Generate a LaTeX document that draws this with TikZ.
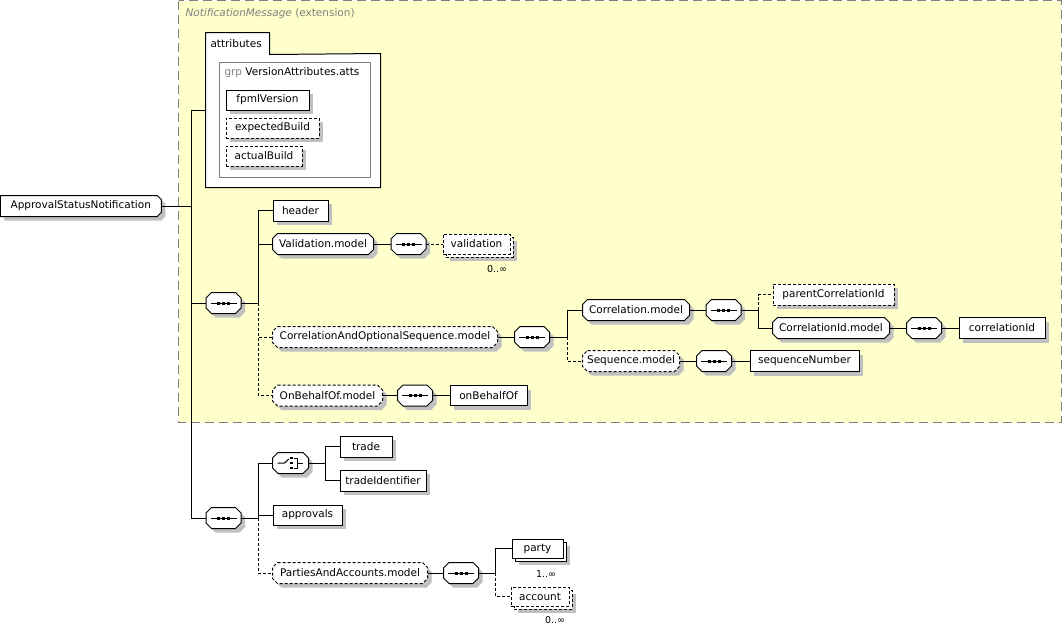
\documentclass[tikz,border=0pt]{standalone}
\usepackage{fontspec}
\setmainfont{DejaVu Sans}
\usetikzlibrary{shadows,calc}
\definecolor{bgy}{HTML}{FFFFCC}
\definecolor{bdg}{HTML}{808080}
\definecolor{shdc}{HTML}{C0C0C0}
\makeatletter
\newdimen\octc \octc=5pt
\newdimen\octXa \newdimen\octXb \newdimen\octYa \newdimen\octYb
\newdimen\octL \newdimen\octR \newdimen\octB \newdimen\octT
\newif\ifoctleft \octlefttrue
\pgfdeclareshape{octo}{%
  \inheritsavedanchors[from=rectangle]%
  \inheritanchorborder[from=rectangle]%
  \inheritanchor[from=rectangle]{center}%
  \inheritanchor[from=rectangle]{north}%
  \inheritanchor[from=rectangle]{south}%
  \inheritanchor[from=rectangle]{east}%
  \inheritanchor[from=rectangle]{west}%
  \inheritanchor[from=rectangle]{north east}%
  \inheritanchor[from=rectangle]{north west}%
  \inheritanchor[from=rectangle]{south east}%
  \inheritanchor[from=rectangle]{south west}%
  \inheritanchor[from=rectangle]{base}%
  \inheritanchor[from=rectangle]{mid}%
  \backgroundpath{%
    \southwest \octXa=\pgf@x \octYa=\pgf@y
    \northeast \octXb=\pgf@x \octYb=\pgf@y
    \octL=\octXa \advance\octL by \octc
    \octR=\octXb \advance\octR by -\octc
    \octB=\octYa \advance\octB by \octc
    \octT=\octYb \advance\octT by -\octc
    \ifoctleft
      \pgfpathmoveto{\pgfqpoint{\octL}{\octYb}}%
    \else
      \pgfpathmoveto{\pgfqpoint{\octXa}{\octYb}}%
    \fi
    \pgfpathlineto{\pgfqpoint{\octR}{\octYb}}%
    \pgfpathlineto{\pgfqpoint{\octXb}{\octT}}%
    \pgfpathlineto{\pgfqpoint{\octXb}{\octB}}%
    \pgfpathlineto{\pgfqpoint{\octR}{\octYa}}%
    \ifoctleft
      \pgfpathlineto{\pgfqpoint{\octL}{\octYa}}%
      \pgfpathlineto{\pgfqpoint{\octXa}{\octB}}%
      \pgfpathlineto{\pgfqpoint{\octXa}{\octT}}%
    \else
      \pgfpathlineto{\pgfqpoint{\octXa}{\octYa}}%
    \fi
    \pgfpathclose
  }%
}
\makeatother
\tikzset{octo chamfer/.code={\pgfmathsetlength\octc{#1}},
  octo noleft/.code={\octleftfalse}}
\newcommand\seqicon[1]{%
  \draw[line width=1pt] ([xshift=-13pt]#1.center) -- ([xshift=13pt]#1.center);
  \foreach \dx in {-5,0,5}{\fill ([xshift=\dx pt-1.5pt,yshift=-1.5pt]#1.center) rectangle ([xshift=\dx pt+1.5pt,yshift=1.5pt]#1.center);}%
}
\newcommand\choiceicon[1]{%
  \draw[line width=1pt] ([xshift=-13pt]#1.center) -- ([xshift=-6pt]#1.center) -- ([xshift=-1.5pt,yshift=4pt]#1.center);
  \foreach \dy in {-5,0,5}{\fill ([xshift=-0.5pt,yshift=\dy pt-1.3pt]#1.center) rectangle ([xshift=2.2pt,yshift=\dy pt+1.3pt]#1.center);}%
  \draw[line width=1pt] ([xshift=3pt,yshift=5pt]#1.center) -- ([xshift=7pt,yshift=5pt]#1.center) -- ([xshift=7pt,yshift=-5pt]#1.center) -- ([xshift=3pt,yshift=-5pt]#1.center);
  \draw[line width=1pt] ([xshift=7pt]#1.center) -- ([xshift=12pt]#1.center);
}
\begin{document}
\begin{tikzpicture}[x=1pt,y=-1pt,line width=1pt,font=\fontsize{10.5}{12}\selectfont,
  shd/.style={drop shadow={shadow xshift=4pt,shadow yshift=-4pt,fill=shdc,opacity=1}},
  base/.style={fill=white,inner sep=0pt,minimum height=20pt,text=black},
  elem/.style={base,shd,draw,rectangle},
  optelem/.style={elem,dash pattern=on 3pt off 2pt},
  grpm/.style={base,shd,draw,octo,octo chamfer=5pt},
  optgrp/.style={grpm,dash pattern=on 3pt off 2pt},
  comp/.style={base,shd,draw,octo,octo chamfer=5.5pt,minimum width=34pt,minimum height=20pt},
  mult/.style={font=\fontsize{9.5}{10}\selectfont,inner sep=0pt},
  dconn/.style={dash pattern=on 3pt off 2pt}]
\useasboundingbox (0,0) rectangle (1062,625);
% extension background
\draw[bdg,fill=bgy,dash pattern=on 9pt off 5pt] (178.5,0.5) rectangle (1061,422.5);
\node[anchor=west,text=bdg,inner sep=0pt] (title) at (185,14) {\textit{NotificationMessage} (extension)};
% attributes
\node[inner sep=0pt,minimum width=174pt,minimum height=133pt] (attrs) at (293,120.5) {};
\node[inner sep=0pt,minimum width=63pt,minimum height=21pt] (atab) at (237.5,43.5) {};
\draw[fill=white] (attrs.south west) -- (atab.north west) -- (atab.north east) -- (atab.south east) -- (attrs.north east) -- (attrs.south east) -- cycle;
\node[anchor=west,inner sep=0pt] (atabtxt) at (210,43.5) {attributes};
\node[draw=bdg,inner sep=0pt,minimum width=151pt,minimum height=115pt] (grpbox) at (294.5,119.5) {};
\node[anchor=west,inner sep=0pt] (grptxt) at (224,73) {\textcolor{bdg}{grp} VersionAttributes.atts};
\node[elem,minimum width=83pt] (fpml) at (267.5,100) {fpmlVersion};
\node[optelem,minimum width=93pt] (expb) at (272.5,128) {expectedBuild};
\node[optelem,minimum width=76pt] (actb) at (264,156) {actualBuild};
% root
\node[base,shd,draw,octo,octo chamfer=4pt,octo noleft,minimum width=160pt] (root) at (80.75,206) {ApprovalStatusNotification};
% top sequence
\node[comp] (seqA) at (223.5,303) {};
\node[elem,minimum width=55pt,minimum height=21pt] (header) at (300.5,210.5) {header};
\node[grpm,minimum width=100pt] (valm) at (323,244) {Validation.model};
\node[comp] (seqV) at (408.5,244) {};
\node[optelem,minimum width=67pt] (validb) at (479.5,247) {};
\node[base,draw,dash pattern=on 3pt off 2pt,minimum width=67pt] (valid) at (476.5,244) {validation};
\node[mult] (validm) at (497,269) {0..∞};
\node[optgrp,minimum width=224pt] (corrseq) at (385,337) {CorrelationAndOptionalSequence.model};
\node[comp] (seqC) at (532,337) {};
\node[grpm,minimum width=106pt] (corrm) at (636,310) {Correlation.model};
\node[comp] (seqCo) at (723.5,310) {};
\node[optelem,minimum width=121pt,minimum height=21pt] (pcid) at (833.5,294.5) {parentCorrelationId};
\node[grpm,minimum width=116pt] (cidm) at (831,328) {CorrelationId.model};
\node[comp] (seqCi) at (924,328) {};
\node[elem,minimum width=86pt,minimum height=21pt] (cid) at (1002,328) {correlationId};
\node[optgrp,minimum width=96pt] (seqm) at (631,361) {Sequence.model};
\node[comp] (seqS) at (714,361) {};
\node[elem,minimum width=109pt,minimum height=21pt] (seqn) at (804.5,361) {sequenceNumber};
\node[optgrp,minimum width=109pt] (obom) at (327.5,395.5) {OnBehalfOf.model};
\node[comp] (seqO) at (415,395.5) {};
\node[elem,minimum width=77pt] (obo) at (488.5,395.5) {onBehalfOf};
% bottom sequence
\node[comp] (seqB) at (223.5,518) {};
\node[comp,minimum width=35pt] (choice) at (290.5,463) {};
\node[elem,minimum width=52pt,minimum height=21pt] (trade) at (366,446.5) {trade};
\node[elem,minimum width=86pt,minimum height=21pt] (tid) at (383,480.5) {tradeIdentifier};
\node[elem,minimum width=69pt] (appr) at (307.5,515) {approvals};
\node[optgrp,minimum width=154pt] (pam) at (350,573) {PartiesAndAccounts.model};
\node[comp] (seqP) at (461,573) {};
\node[elem,minimum width=51pt,minimum height=19pt] (partyb) at (540.5,551.5) {};
\node[base,draw,minimum width=51pt,minimum height=19pt] (party) at (537.5,548.5) {party};
\node[mult] (partym) at (546,574) {1..∞};
\node[optelem,minimum width=58pt,minimum height=19pt] (acctb) at (543,599.5) {};
\node[base,draw,dash pattern=on 3pt off 2pt,minimum width=58pt,minimum height=19pt] (acct) at (540,596.5) {account};
\node[mult] (acctm) at (555,620) {0..∞};
% icons
\foreach \n in {seqA,seqV,seqC,seqCo,seqCi,seqS,seqO,seqB,seqP}{\seqicon{\n}}
\choiceicon{choice}
% connectors
\coordinate (t0) at (191,206);
\coordinate (tA) at (191,110);
\coordinate (tC) at (191,518);
\draw (root.east) -- (t0);
\draw (tA) -- (tC);
\draw (tA) -- (tA -| attrs.west);
\draw (t0 |- seqA.west) -- (seqA.west);
\draw (tC) -- (seqB.west);
\coordinate (bA) at (258,303);
\draw (seqA.east) -- (bA);
\draw (bA) |- (header.west);
\draw (bA) |- (valm.west);
\draw[dconn] (bA) |- (corrseq.west);
\draw[dconn] (bA) |- (obom.west);
\draw (valm.east) -- (seqV.west);
\draw[dconn] (seqV.east) -- (valid.west);
\draw (corrseq.east) -- (seqC.west);
\coordinate (bC) at (567,337);
\draw (seqC.east) -- (bC);
\draw (bC) |- (corrm.west);
\draw[dconn] (bC) |- (seqm.west);
\draw (corrm.east) -- (seqCo.west);
\coordinate (bCo) at (758,310);
\draw (seqCo.east) -- (bCo);
\draw[dconn] (bCo) |- (pcid.west);
\draw (bCo) |- (cidm.west);
\draw (cidm.east) -- (seqCi.west);
\draw (seqCi.east) -- (cid.west);
\draw (seqm.east) -- (seqS.west);
\draw (seqS.east) -- (seqn.west);
\draw (obom.east) -- (seqO.west);
\draw (seqO.east) -- (obo.west);
\coordinate (bB) at (258,518);
\draw (seqB.east) -- (bB);
\draw (bB) |- (choice.west);
\draw (bB) |- (appr.west);
\draw[dconn] (bB) |- (pam.west);
\coordinate (bCh) at (325,463);
\draw (choice.east) -- (bCh);
\draw (bCh) |- (trade.west);
\draw (bCh) |- (tid.west);
\draw (pam.east) -- (seqP.west);
\coordinate (bP) at (495,573);
\draw (seqP.east) -- (bP);
\draw (bP) |- (party.west);
\draw[dconn] (bP) |- (acct.west);
\end{tikzpicture}
\end{document}
